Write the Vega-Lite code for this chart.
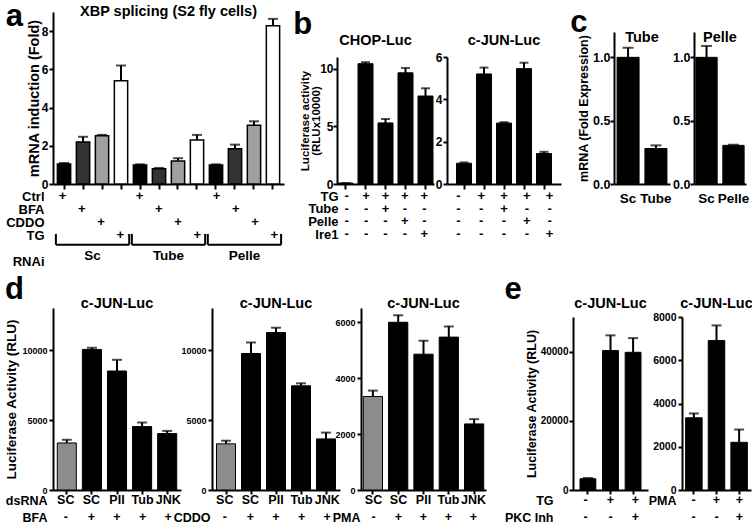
{
"$schema":"https://vega.github.io/schema/vega-lite/v6.json",
"padding":{"left":4,"top":0,"right":0,"bottom":0},
"resolve":{"scale":{"fill":"independent"}},
"datasets":{
"a":[
{"id":"Sc-Ctrl","rnai":"Sc","trt":"Ctrl","v":1.05,"e":1.1},
{"id":"Sc-BFA","rnai":"Sc","trt":"BFA","v":2.2,"e":2.47},
{"id":"Sc-CDDO","rnai":"Sc","trt":"CDDO","v":2.52,"e":2.57},
{"id":"Sc-TG","rnai":"Sc","trt":"TG","v":5.4,"e":6.2},
{"id":"Tube-Ctrl","rnai":"Tube","trt":"Ctrl","v":1.0,"e":1.03},
{"id":"Tube-BFA","rnai":"Tube","trt":"BFA","v":0.8,"e":0.84},
{"id":"Tube-CDDO","rnai":"Tube","trt":"CDDO","v":1.21,"e":1.35},
{"id":"Tube-TG","rnai":"Tube","trt":"TG","v":2.3,"e":2.57},
{"id":"Pelle-Ctrl","rnai":"Pelle","trt":"Ctrl","v":1.0,"e":1.03},
{"id":"Pelle-BFA","rnai":"Pelle","trt":"BFA","v":1.85,"e":2.06},
{"id":"Pelle-CDDO","rnai":"Pelle","trt":"CDDO","v":3.08,"e":3.28},
{"id":"Pelle-TG","rnai":"Pelle","trt":"TG","v":8.28,"e":8.64}
],
"aGroups":[{"rnai":"Sc"},{"rnai":"Tube"},{"rnai":"Pelle"}],
"b1":[
{"bar":1,"v":0.08,"e":0.08,"TG":"-","Tube":"-","Pelle":"-","Ire1":"-"},
{"bar":2,"v":10.42,"e":10.55,"TG":"+","Tube":"-","Pelle":"-","Ire1":"-"},
{"bar":3,"v":5.29,"e":5.63,"TG":"+","Tube":"+","Pelle":"-","Ire1":"-"},
{"bar":4,"v":9.63,"e":10.05,"TG":"+","Tube":"-","Pelle":"+","Ire1":"-"},
{"bar":5,"v":7.62,"e":8.29,"TG":"+","Tube":"-","Pelle":"-","Ire1":"+"}
],
"b2":[
{"bar":1,"v":0.98,"e":1.02,"TG":"-","Tube":"-","Pelle":"-","Ire1":"-"},
{"bar":2,"v":5.2,"e":5.5,"TG":"+","Tube":"-","Pelle":"-","Ire1":"-"},
{"bar":3,"v":2.88,"e":2.92,"TG":"+","Tube":"+","Pelle":"-","Ire1":"-"},
{"bar":4,"v":5.45,"e":5.73,"TG":"+","Tube":"-","Pelle":"+","Ire1":"-"},
{"bar":5,"v":1.44,"e":1.52,"TG":"+","Tube":"-","Pelle":"-","Ire1":"+"}
],
"c1":[{"lab":"Sc","v":1.0,"e":1.075},{"lab":"Tube","v":0.28,"e":0.305}],
"c2":[{"lab":"Sc","v":1.0,"e":1.09},{"lab":"Pelle","v":0.305,"e":0.31}],
"d1":[
{"bar":1,"dsRNA":"SC","BFA":"-","v":3360,"e":3590},
{"bar":2,"dsRNA":"SC","BFA":"+","v":10040,"e":10160},
{"bar":3,"dsRNA":"PII","BFA":"+","v":8500,"e":9300},
{"bar":4,"dsRNA":"Tub","BFA":"+","v":4530,"e":4820},
{"bar":5,"dsRNA":"JNK","BFA":"+","v":4030,"e":4220}
],
"d2":[
{"bar":1,"dsRNA":"SC","CDDO":"-","v":3300,"e":3520},
{"bar":2,"dsRNA":"SC","CDDO":"+","v":9750,"e":10540},
{"bar":3,"dsRNA":"PII","CDDO":"+","v":11250,"e":11590},
{"bar":4,"dsRNA":"Tub","CDDO":"+","v":7440,"e":7620},
{"bar":5,"dsRNA":"JNK","CDDO":"+","v":3650,"e":4100}
],
"d3":[
{"bar":1,"dsRNA":"SC","PMA":"-","v":3340,"e":3550},
{"bar":2,"dsRNA":"SC","PMA":"+","v":5990,"e":6240},
{"bar":3,"dsRNA":"PII","PMA":"+","v":4850,"e":5330},
{"bar":4,"dsRNA":"Tub","PMA":"+","v":5460,"e":5840},
{"bar":5,"dsRNA":"JNK","PMA":"+","v":2360,"e":2530}
],
"e1":[
{"bar":1,"TG":"-","PKC Inh":"-","v":3260,"e":3480},
{"bar":2,"TG":"+","PKC Inh":"-","v":40300,"e":44700},
{"bar":3,"TG":"+","PKC Inh":"+","v":39800,"e":43900}
],
"e2":[
{"bar":1,"PMA":"-","PKC Inh":"-","v":3340,"e":3540},
{"bar":2,"PMA":"+","PKC Inh":"-","v":6910,"e":7610},
{"bar":3,"PMA":"+","PKC Inh":"+","v":2205,"e":2795}
]
},
"spacing":5,
"vconcat":[
{"spacing":9,"hconcat":[
{"title":{"text":"a","fontSize":31,"anchor":"start","offset":-29},
 "hconcat":[{
  "width":231,"height":172,
  "title":{"text":"XBP splicing (S2 fly cells)","offset":-7},
  "layer":[
   {"data":{"name":"a"},
    "layer":[
     {"mark":{"type":"bar","stroke":"black","strokeWidth":1.5},
      "encoding":{
       "x":{"field":"id","type":"nominal","sort":null,"scale":{"paddingInner":0.3,"paddingOuter":0.23},"axis":{"orient":"bottom","labels":false,"title":null,"tickSize":5}},
       "y":{"field":"v","type":"quantitative","scale":{"domain":[0,9]},"axis":{"orient":"left","values":[0,2,4,6,8],"title":"mRNA induction (Fold)","titleFontSize":14.5,"labelFontSize":12,"labelPadding":1,"titlePadding":0}},
       "fill":{"field":"trt","type":"nominal","scale":{"domain":["Ctrl","BFA","CDDO","TG"],"range":["#000000","#333333","#a0a0a0","#ffffff"]},"legend":null}}},
     {"mark":{"type":"rule","strokeWidth":2,"color":"black"},
      "encoding":{"x":{"field":"id","type":"nominal","sort":null},"y":{"field":"v","type":"quantitative"},"y2":{"field":"e"}}},
     {"mark":{"type":"tick","orient":"horizontal","size":10,"thickness":2,"color":"black"},
      "encoding":{"x":{"field":"id","type":"nominal","sort":null},"y":{"field":"e","type":"quantitative"}}}
    ]},
   {"data":{"name":"a"},
    "mark":{"type":"text","text":"+","fontSize":13},
    "encoding":{
     "x":{"field":"id","type":"nominal","sort":null,"scale":{"paddingInner":0.3,"paddingOuter":0.23},"axis":null},
     "y":{"field":"trt","type":"nominal","scale":{"domain":["Ctrl","BFA","CDDO","TG","br","RNAi"],"range":[184,249],"padding":0},"axis":{"orient":"left","domain":false,"ticks":false,"title":null,"labelPadding":9,"labelFontSize":13,"labelExpr":"datum.value == 'br' ? '' : datum.label"}}}},
   {"data":{"name":"aGroups"},
    "layer":[
     {"mark":{"type":"rule","strokeWidth":2,"color":"black"},
      "encoding":{
       "x":{"field":"rnai","type":"nominal","sort":null,"bandPosition":0,"scale":{"paddingInner":0.035,"paddingOuter":0.038},"axis":null},
       "x2":{"field":"rnai","bandPosition":1},
       "y":{"datum":"br","type":"nominal","scale":{"domain":["Ctrl","BFA","CDDO","TG","br","RNAi"],"range":[184,249],"padding":0},"axis":null}}},
     {"mark":{"type":"rule","strokeWidth":2,"color":"black"},
      "encoding":{
       "x":{"field":"rnai","type":"nominal","sort":null,"bandPosition":0},
       "y":{"datum":"TG","type":"nominal"},"y2":{"datum":"br"}}},
     {"mark":{"type":"rule","strokeWidth":2,"color":"black"},
      "encoding":{
       "x":{"field":"rnai","type":"nominal","sort":null,"bandPosition":1},
       "y":{"datum":"TG","type":"nominal"},"y2":{"datum":"br"}}},
     {"mark":{"type":"text","fontSize":13.5},
      "encoding":{
       "x":{"field":"rnai","type":"nominal","sort":null},
       "y":{"datum":"RNAi","type":"nominal"},
       "text":{"field":"rnai"}}}
    ]}
  ],
  "resolve":{"scale":{"x":"independent","y":"independent"}}
 }]},
{"title":{"text":"b","fontSize":31,"anchor":"start","offset":-26,"dx":-6,"dy":3},
 "spacing":1,
 "hconcat":[
 {"width":97,"height":172,
  "title":{"text":"CHOP-Luc","dx":-10,"offset":-36},
  "data":{"name":"b1"},
  "layer":[
   {"layer":[
    {"mark":{"type":"bar","fill":"black","stroke":"black","strokeWidth":1},
     "encoding":{
      "x":{"field":"bar","type":"nominal","sort":null,"scale":{"paddingInner":0.25,"paddingOuter":0.05},"axis":{"orient":"bottom","labels":false,"title":null,"tickSize":5}},
      "y":{"field":"v","type":"quantitative","scale":{"domain":[0,11],"range":[172,45]},"axis":{"orient":"left","values":[0,5,10],"title":["Luciferase activity","(RLUx10000)"],"titleFontSize":11.5,"titleLineHeight":11.5,"labelFontSize":12,"labelPadding":0,"titlePadding":-2}}}},
    {"mark":{"type":"rule","strokeWidth":2,"color":"black"},
     "encoding":{"x":{"field":"bar","type":"nominal","sort":null},"y":{"field":"v","type":"quantitative"},"y2":{"field":"e"}}},
    {"mark":{"type":"tick","orient":"horizontal","size":9,"thickness":2,"color":"black"},
     "encoding":{"x":{"field":"bar","type":"nominal","sort":null},"y":{"field":"e","type":"quantitative"}}}
   ]},
   {"transform":[{"fold":["TG","Tube","Pelle","Ire1"],"as":["row","sign"]}],
    "mark":{"type":"text","fontSize":13},
    "encoding":{
     "x":{"field":"bar","type":"nominal","sort":null,"scale":{"paddingInner":0.25,"paddingOuter":0.05},"axis":null},
     "y":{"field":"row","type":"nominal","scale":{"domain":["TG","Tube","Pelle","Ire1"],"range":[184,222],"padding":0},"axis":{"orient":"left","domain":false,"ticks":false,"title":null,"labelPadding":-1,"labelFontSize":13}},
     "text":{"field":"sign"}}}
  ],
  "resolve":{"scale":{"x":"independent","y":"independent"}}},
 {"width":114,"height":172,
  "title":{"text":"c-JUN-Luc","offset":-36},
  "data":{"name":"b2"},
  "layer":[
   {"layer":[
    {"mark":{"type":"bar","fill":"black","stroke":"black","strokeWidth":1},
     "encoding":{
      "x":{"field":"bar","type":"nominal","sort":null,"scale":{"paddingInner":0.25,"paddingOuter":0.475},"axis":{"orient":"bottom","labels":false,"title":null,"tickSize":5}},
      "y":{"field":"v","type":"quantitative","scale":{"domain":[0,6],"range":[172,45]},"axis":{"orient":"left","values":[0,2,4,6],"title":null,"labelFontSize":12,"labelPadding":1}}}},
    {"mark":{"type":"rule","strokeWidth":2,"color":"black"},
     "encoding":{"x":{"field":"bar","type":"nominal","sort":null},"y":{"field":"v","type":"quantitative"},"y2":{"field":"e"}}},
    {"mark":{"type":"tick","orient":"horizontal","size":9,"thickness":2,"color":"black"},
     "encoding":{"x":{"field":"bar","type":"nominal","sort":null},"y":{"field":"e","type":"quantitative"}}}
   ]},
   {"transform":[{"fold":["TG","Tube","Pelle","Ire1"],"as":["row","sign"]}],
    "mark":{"type":"text","fontSize":13},
    "encoding":{
     "x":{"field":"bar","type":"nominal","sort":null,"scale":{"paddingInner":0.25,"paddingOuter":0.475},"axis":null},
     "y":{"field":"row","type":"nominal","scale":{"domain":["TG","Tube","Pelle","Ire1"],"range":[184,222],"padding":0},"axis":null},
     "text":{"field":"sign"}}}
  ],
  "resolve":{"scale":{"x":"independent","y":"independent"}}}
 ]},
{"title":{"text":"c","fontSize":31,"orient":"left","angle":0,"align":"right","baseline":"top","anchor":"end","frame":"group","offset":-27,"dy":-4},
 "spacing":0,
 "hconcat":[
 {"width":56,"height":172,
  "title":{"text":"Tube","offset":-33},
  "data":{"name":"c1"},
  "layer":[
   {"mark":{"type":"bar","fill":"black","stroke":"black","strokeWidth":1},
    "encoding":{
     "x":{"field":"lab","type":"nominal","sort":null,"scale":{"paddingInner":0.21,"paddingOuter":0.11},"axis":{"orient":"bottom","title":null,"ticks":false,"labelPadding":7,"labelFontSize":13.5,"labelAngle":0}},
     "y":{"field":"v","type":"quantitative","scale":{"domain":[0,1.2],"range":[172,20]},"axis":{"orient":"left","values":[0,0.5,1],"format":".1f","title":"mRNA (Fold Expression)","titleFontSize":12.5,"labelFontSize":12.5,"labelPadding":0,"titlePadding":2}}}},
   {"mark":{"type":"rule","strokeWidth":2,"color":"black"},
    "encoding":{"x":{"field":"lab","type":"nominal","sort":null},"y":{"field":"v","type":"quantitative"},"y2":{"field":"e"}}},
   {"mark":{"type":"tick","orient":"horizontal","size":11,"thickness":2,"color":"black"},
    "encoding":{"x":{"field":"lab","type":"nominal","sort":null},"y":{"field":"e","type":"quantitative"}}}
  ]},
 {"width":52,"height":172,
  "title":{"text":"Pelle","offset":-33},
  "data":{"name":"c2"},
  "layer":[
   {"mark":{"type":"bar","fill":"black","stroke":"black","strokeWidth":1},
    "encoding":{
     "x":{"field":"lab","type":"nominal","sort":null,"scale":{"paddingInner":0.21,"paddingOuter":0.07},"axis":{"orient":"bottom","title":null,"ticks":false,"labelPadding":7,"labelFontSize":13.5,"labelAngle":0}},
     "y":{"field":"v","type":"quantitative","scale":{"domain":[0,1.2],"range":[172,20]},"axis":{"orient":"left","values":[0,0.5,1],"format":".1f","title":null,"labelFontSize":12.5,"labelPadding":0}}}},
   {"mark":{"type":"rule","strokeWidth":2,"color":"black"},
    "encoding":{"x":{"field":"lab","type":"nominal","sort":null},"y":{"field":"v","type":"quantitative"},"y2":{"field":"e"}}},
   {"mark":{"type":"tick","orient":"horizontal","size":11,"thickness":2,"color":"black"},
    "encoding":{"x":{"field":"lab","type":"nominal","sort":null},"y":{"field":"e","type":"quantitative"}}}
  ]}
 ]}
]},
{"spacing":17,"hconcat":[
{"title":{"text":"d","fontSize":31,"anchor":"start","offset":-10},
 "spacing":-8,
 "hconcat":[
 {"width":128,"height":182,
  "title":{"text":"c-JUN-Luc","offset":-3},
  "data":{"name":"d1"},
  "layer":[
   {"layer":[
    {"mark":{"type":"bar","stroke":"black","strokeWidth":1},
     "encoding":{
      "x":{"field":"bar","type":"nominal","sort":null,"scale":{"paddingInner":0.24,"paddingOuter":0.17},"axis":{"orient":"bottom","labels":false,"title":null,"tickSize":4}},
      "y":{"field":"v","type":"quantitative","scale":{"domain":[0,12200]},"axis":{"orient":"left","values":[0,5000,10000],"format":"d","title":"Luciferase Activity (RLU)","titleFontSize":13.5,"labelFontSize":9}},
      "fill":{"field":"BFA","type":"nominal","scale":{"domain":["-","+"],"range":["#8c8c8c","#000000"]},"legend":null}}},
    {"mark":{"type":"rule","strokeWidth":2,"color":"black"},
     "encoding":{"x":{"field":"bar","type":"nominal","sort":null},"y":{"field":"v","type":"quantitative"},"y2":{"field":"e"}}},
    {"mark":{"type":"tick","orient":"horizontal","size":10,"thickness":2,"color":"black"},
     "encoding":{"x":{"field":"bar","type":"nominal","sort":null},"y":{"field":"e","type":"quantitative"}}}
   ]},
   {"transform":[{"fold":["dsRNA","BFA"],"as":["row","lab"]}],
    "mark":{"type":"text","fontSize":12.5},
    "encoding":{
     "x":{"field":"bar","type":"nominal","sort":null,"scale":{"paddingInner":0.24,"paddingOuter":0.17},"axis":null},
     "y":{"field":"row","type":"nominal","scale":{"domain":["dsRNA","BFA"],"range":[192,209],"padding":0},"axis":{"orient":"left","domain":false,"ticks":false,"title":null,"labelPadding":6,"labelFontSize":12.5}},
     "text":{"field":"lab"}}}
  ],
  "resolve":{"scale":{"x":"independent","y":"independent"}}},
 {"width":128,"height":182,
  "title":{"text":"c-JUN-Luc","offset":-3},
  "data":{"name":"d2"},
  "layer":[
   {"layer":[
    {"mark":{"type":"bar","stroke":"black","strokeWidth":1},
     "encoding":{
      "x":{"field":"bar","type":"nominal","sort":null,"scale":{"paddingInner":0.24,"paddingOuter":0.18},"axis":{"orient":"bottom","labels":false,"title":null,"tickSize":4}},
      "y":{"field":"v","type":"quantitative","scale":{"domain":[0,12200]},"axis":{"orient":"left","values":[0,5000,10000],"format":"d","title":null,"labelFontSize":9}},
      "fill":{"field":"CDDO","type":"nominal","scale":{"domain":["-","+"],"range":["#8c8c8c","#000000"]},"legend":null}}},
    {"mark":{"type":"rule","strokeWidth":2,"color":"black"},
     "encoding":{"x":{"field":"bar","type":"nominal","sort":null},"y":{"field":"v","type":"quantitative"},"y2":{"field":"e"}}},
    {"mark":{"type":"tick","orient":"horizontal","size":10,"thickness":2,"color":"black"},
     "encoding":{"x":{"field":"bar","type":"nominal","sort":null},"y":{"field":"e","type":"quantitative"}}}
   ]},
   {"transform":[{"fold":["dsRNA","CDDO"],"as":["row","lab"]}],
    "mark":{"type":"text","fontSize":12.5},
    "encoding":{
     "x":{"field":"bar","type":"nominal","sort":null,"scale":{"paddingInner":0.24,"paddingOuter":0.18},"axis":null},
     "y":{"field":"row","type":"nominal","scale":{"domain":["dsRNA","CDDO"],"range":[192,209],"padding":0},"axis":{"orient":"left","domain":false,"ticks":false,"title":null,"labelPadding":2,"labelFontSize":12.5,"labelExpr":"datum.value == 'dsRNA' ? '' : datum.label"}},
     "text":{"field":"lab"}}}
  ],
  "resolve":{"scale":{"x":"independent","y":"independent"}}},
 {"width":125,"height":182,
  "title":{"text":"c-JUN-Luc","offset":-3},
  "data":{"name":"d3"},
  "layer":[
   {"layer":[
    {"mark":{"type":"bar","stroke":"black","strokeWidth":1},
     "encoding":{
      "x":{"field":"bar","type":"nominal","sort":null,"scale":{"paddingInner":0.24,"paddingOuter":0.09},"axis":{"orient":"bottom","labels":false,"title":null,"tickSize":4}},
      "y":{"field":"v","type":"quantitative","scale":{"domain":[0,6500]},"axis":{"orient":"left","values":[0,2000,4000,6000],"format":"d","title":null,"labelFontSize":9}},
      "fill":{"field":"PMA","type":"nominal","scale":{"domain":["-","+"],"range":["#8c8c8c","#000000"]},"legend":null}}},
    {"mark":{"type":"rule","strokeWidth":2,"color":"black"},
     "encoding":{"x":{"field":"bar","type":"nominal","sort":null},"y":{"field":"v","type":"quantitative"},"y2":{"field":"e"}}},
    {"mark":{"type":"tick","orient":"horizontal","size":10,"thickness":2,"color":"black"},
     "encoding":{"x":{"field":"bar","type":"nominal","sort":null},"y":{"field":"e","type":"quantitative"}}}
   ]},
   {"transform":[{"fold":["dsRNA","PMA"],"as":["row","lab"]}],
    "mark":{"type":"text","fontSize":12.5},
    "encoding":{
     "x":{"field":"bar","type":"nominal","sort":null,"scale":{"paddingInner":0.24,"paddingOuter":0.09},"axis":null},
     "y":{"field":"row","type":"nominal","scale":{"domain":["dsRNA","PMA"],"range":[192,209],"padding":0},"axis":{"orient":"left","domain":false,"ticks":false,"title":null,"labelPadding":1,"labelFontSize":12.5,"labelExpr":"datum.value == 'dsRNA' ? '' : datum.label"}},
     "text":{"field":"lab"}}}
  ],
  "resolve":{"scale":{"x":"independent","y":"independent"}}}
 ]},
{"title":{"text":"e","fontSize":31,"anchor":"start","offset":-10},
 "spacing":0,
 "hconcat":[
 {"width":75,"height":182,
  "title":{"text":"c-JUN-Luc","offset":-3},
  "data":{"name":"e1"},
  "layer":[
   {"layer":[
    {"mark":{"type":"bar","fill":"black","stroke":"black","strokeWidth":1},
     "encoding":{
      "x":{"field":"bar","type":"nominal","sort":null,"scale":{"paddingInner":0.3,"paddingOuter":0.31},"axis":{"orient":"bottom","labels":false,"title":null,"tickSize":4}},
      "y":{"field":"v","type":"quantitative","scale":{"domain":[0,50000],"range":[182,9]},"axis":{"orient":"left","values":[0,10000,20000,30000,40000,50000],"format":"d","title":"Luciferase Activity (RLU)","titleFontSize":12.5,"labelFontSize":10,"labelPadding":1,"titlePadding":2}}}},
    {"mark":{"type":"rule","strokeWidth":2,"color":"black"},
     "encoding":{"x":{"field":"bar","type":"nominal","sort":null},"y":{"field":"v","type":"quantitative"},"y2":{"field":"e"}}},
    {"mark":{"type":"tick","orient":"horizontal","size":10,"thickness":2,"color":"black"},
     "encoding":{"x":{"field":"bar","type":"nominal","sort":null},"y":{"field":"e","type":"quantitative"}}}
   ]},
   {"transform":[{"fold":["TG","PKC Inh"],"as":["row","lab"]}],
    "mark":{"type":"text","fontSize":12.5},
    "encoding":{
     "x":{"field":"bar","type":"nominal","sort":null,"scale":{"paddingInner":0.3,"paddingOuter":0.31},"axis":null},
     "y":{"field":"row","type":"nominal","scale":{"domain":["TG","PKC Inh"],"range":[192,209],"padding":0},"axis":{"orient":"left","domain":false,"ticks":false,"title":null,"labelPadding":20,"labelFontSize":12.5}},
     "text":{"field":"lab"}}}
  ],
  "resolve":{"scale":{"x":"independent","y":"independent"}}},
 {"width":69,"height":182,
  "title":{"text":"c-JUN-Luc","offset":-3},
  "data":{"name":"e2"},
  "layer":[
   {"layer":[
    {"mark":{"type":"bar","fill":"black","stroke":"black","strokeWidth":1},
     "encoding":{
      "x":{"field":"bar","type":"nominal","sort":null,"scale":{"paddingInner":0.27,"paddingOuter":0.16},"axis":{"orient":"bottom","labels":false,"title":null,"tickSize":4}},
      "y":{"field":"v","type":"quantitative","scale":{"domain":[0,8000],"range":[182,9]},"axis":{"orient":"left","values":[0,2000,4000,6000,8000],"format":"d","title":null,"labelFontSize":10.5}}}},
    {"mark":{"type":"rule","strokeWidth":2,"color":"black"},
     "encoding":{"x":{"field":"bar","type":"nominal","sort":null},"y":{"field":"v","type":"quantitative"},"y2":{"field":"e"}}},
    {"mark":{"type":"tick","orient":"horizontal","size":10,"thickness":2,"color":"black"},
     "encoding":{"x":{"field":"bar","type":"nominal","sort":null},"y":{"field":"e","type":"quantitative"}}}
   ]},
   {"transform":[{"fold":["PMA","PKC Inh"],"as":["row","lab"]}],
    "mark":{"type":"text","fontSize":12.5},
    "encoding":{
     "x":{"field":"bar","type":"nominal","sort":null,"scale":{"paddingInner":0.27,"paddingOuter":0.16},"axis":null},
     "y":{"field":"row","type":"nominal","scale":{"domain":["PMA","PKC Inh"],"range":[192,209],"padding":0},"axis":{"orient":"left","domain":false,"ticks":false,"title":null,"labelPadding":6,"labelFontSize":12.5,"labelExpr":"datum.value == 'PKC Inh' ? '' : datum.label"}},
     "text":{"field":"lab"}}}
  ],
  "resolve":{"scale":{"x":"independent","y":"independent"}}}
 ]}
]}
],
"config":{
 "font":"Liberation Sans",
 "view":{"stroke":null},
 "axis":{"grid":false,"domainColor":"black","domainWidth":2,"tickColor":"black","tickWidth":2,"tickSize":4,"labelColor":"black","labelFontWeight":"bold","labelFont":"Liberation Sans","titleFont":"Liberation Sans","titleFontWeight":"bold","titleColor":"black","labelPadding":2,"titlePadding":3},
 "title":{"font":"Liberation Sans","fontWeight":"bold","fontSize":14.5,"color":"black"},
 "text":{"font":"Liberation Sans","fontWeight":"bold","color":"black"}
}
}
